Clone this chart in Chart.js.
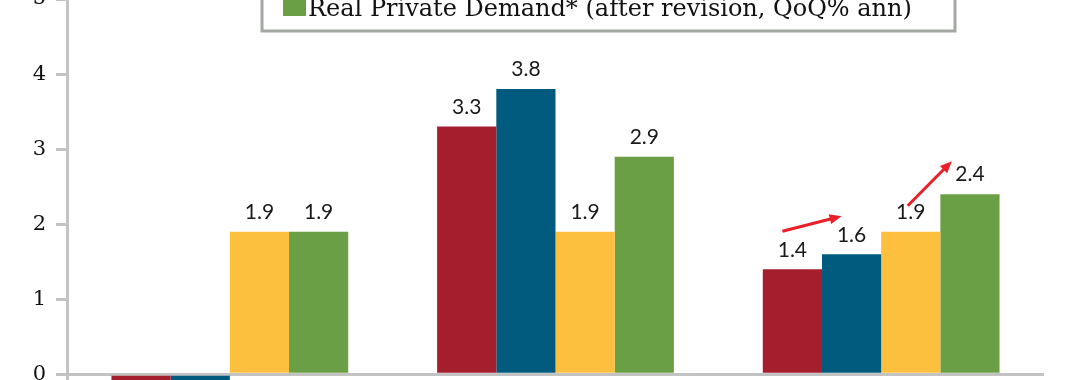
<!DOCTYPE html>
<html>
<head>
<meta charset="utf-8">
<script src="https://cdn.jsdelivr.net/npm/chart.js@4"></script>
<style>
  html, body { margin: 0; padding: 0; background: #fff; overflow: hidden; }
  #wrap { position: absolute; left: 0; top: -130px; width: 1080px; height: 572px; }
</style>
</head>
<body>
<div id="wrap"><canvas id="gdpChart" width="1080" height="572"></canvas></div>
<script>
// categories (bottom axis labels are cropped out of the view)
const quarters = ['Q1 2025', 'Q2 2025', 'Q3 2025'];

// series values, QoQ% annualised
const gdpBefore = [-0.5, 3.3, 1.4];
const gdpAfter = [-0.5, 3.8, 1.6];
const demandBefore = [1.9, 1.9, 1.9];
const demandAfter = [1.9, 2.9, 2.4];

const seriesNames = [
  'Real GDP (before revision, QoQ% ann)',
  'Real GDP (after revision, QoQ% ann)',
  'Real Private Demand* (before revision, QoQ% ann)',
  'Real Private Demand* (after revision, QoQ% ann)'
];
const seriesColors = ['#a51e2e', '#005b7f', '#fcc03e', '#6b9f45'];

const yTicks = [0, 1, 2, 3, 4, 5];

const axisGray = '#c3c3c3';

// value labels over the bars
const valueLabels = {
  id: 'valueLabels',
  afterDatasetsDraw(chart) {
    const ctx = chart.ctx;
    ctx.save();
    ctx.font = '21px Lato';
    ctx.fillStyle = '#1a1a1a';
    ctx.textAlign = 'center';
    ctx.textBaseline = 'bottom';
    chart.data.datasets.forEach((ds, i) => {
      chart.getDatasetMeta(i).data.forEach((bar, j) => {
        const v = ds.data[j];
        if (v > 0) ctx.fillText(v.toFixed(1), bar.x, bar.y - 9);
      });
    });
    ctx.restore();
  }
};

// red arrows showing the revision in the last quarter
function arrow(ctx, x1, y1, x2, y2) {
  const a = Math.atan2(y2 - y1, x2 - x1);
  const head = 13;
  ctx.beginPath();
  ctx.moveTo(x1, y1);
  ctx.lineTo(x2 - Math.cos(a) * head * 0.8, y2 - Math.sin(a) * head * 0.8);
  ctx.stroke();
  ctx.beginPath();
  ctx.moveTo(x2, y2);
  ctx.lineTo(x2 - head * Math.cos(a - 0.4), y2 - head * Math.sin(a - 0.4));
  ctx.lineTo(x2 - head * Math.cos(a + 0.4), y2 - head * Math.sin(a + 0.4));
  ctx.closePath();
  ctx.fill();
}

const revisionArrows = {
  id: 'revisionArrows',
  afterDatasetsDraw(chart) {
    const ctx = chart.ctx;
    const last = quarters.length - 1;
    const b = k => chart.getDatasetMeta(k).data[last];
    ctx.save();
    ctx.strokeStyle = '#e8202a';
    ctx.fillStyle = '#e8202a';
    ctx.lineWidth = 3;
    arrow(ctx, b(0).x - 10, b(0).y - 38, b(1).x - 10, b(1).y - 38);
    arrow(ctx, b(2).x - 3, b(2).y - 26, b(3).x - 18, b(3).y - 33);
    ctx.restore();
  }
};

// boxed legend sitting inside the plot
const boxLegend = {
  id: 'boxLegend',
  afterDraw(chart) {
    const ctx = chart.ctx;
    const left = 262, right = 955, bottom = 161, row = 30;
    const n = chart.data.datasets.length;
    const top = bottom - n * row - 14;
    ctx.save();
    ctx.strokeStyle = '#a3a8a3';
    ctx.lineWidth = 3;
    ctx.fillStyle = '#fff';
    ctx.fillRect(left, top, right - left, bottom - top);
    ctx.strokeRect(left, top, right - left, bottom - top);
    ctx.font = '24px "DejaVu Serif"';
    ctx.textBaseline = 'alphabetic';
    chart.data.datasets.forEach((ds, i) => {
      const base = bottom - 15 - (n - 1 - i) * row;
      ctx.fillStyle = ds.backgroundColor;
      ctx.fillRect(283, base - 21, 23, 21);
      ctx.fillStyle = '#111';
      ctx.fillText(ds.label, 308, base);
    });
    ctx.restore();
  }
};

const datasets = [gdpBefore, gdpAfter, demandBefore, demandAfter].map((vals, i) => ({
  label: seriesNames[i],
  data: vals,
  backgroundColor: seriesColors[i],
  borderWidth: 0,
  barPercentage: 1,
  categoryPercentage: 0.727
}));

new Chart(document.getElementById('gdpChart'), {
  type: 'bar',
  data: { labels: quarters, datasets: datasets },
  options: {
    responsive: false,
    animation: false,
    layout: { padding: { top: 129, right: 36, bottom: 0, left: 0 } },
    plugins: { legend: { display: false }, tooltip: { enabled: false } },
    scales: {
      x: {
        grid: { display: false },
        border: { display: false },
        ticks: { display: false },
        afterFit: s => { s.height = 0; }
      },
      y: {
        min: -0.6,
        max: 5,
        afterBuildTicks: s => { s.ticks = yTicks.map(v => ({ value: v })); },
        afterFit: s => { s.width = 67; },
        border: { color: axisGray, width: 3 },
        grid: {
          color: c => (c.tick && c.tick.value === 0 ? axisGray : 'transparent'),
          lineWidth: 3,
          tickColor: axisGray,
          tickLength: 11,
          drawOnChartArea: true
        },
        ticks: {
          padding: 10,
          color: '#111',
          font: { family: 'DejaVu Serif', size: 21 }
        }
      }
    }
  },
  plugins: [valueLabels, revisionArrows, boxLegend]
});
</script>
</body>
</html>
